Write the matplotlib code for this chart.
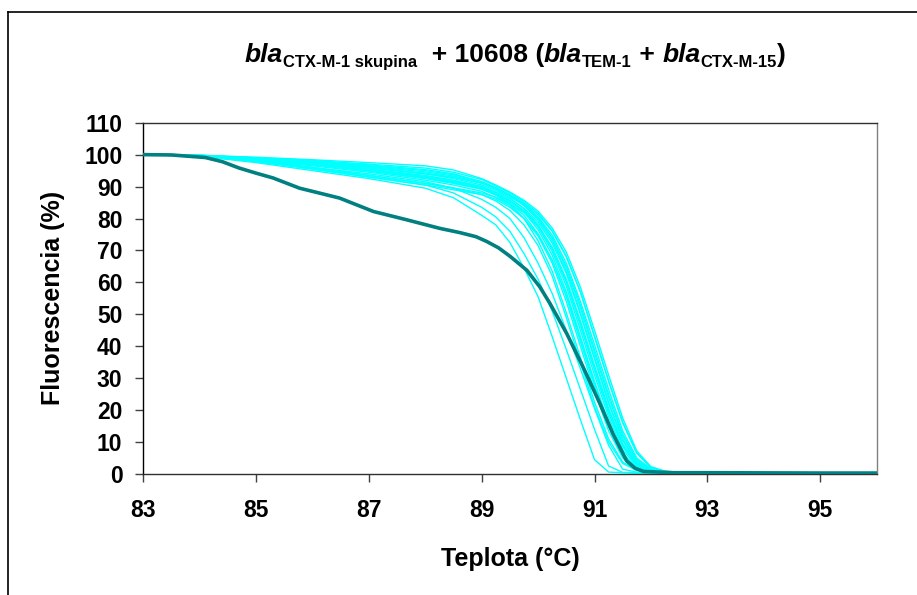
import numpy as np
import matplotlib
matplotlib.use("Agg")
import matplotlib.pyplot as plt
from matplotlib.lines import Line2D

plt.rcParams['font.family'] = ['Liberation Sans', 'DejaVu Sans']

# temperature grid shared by the light (cyan) melting curves
teploty = [83, 84, 85, 86, 87, 88, 88.5, 89, 89.25, 89.5, 89.75, 90, 90.25, 90.5,
           90.75, 91, 91.25, 91.5, 91.75, 92, 92.25, 92.5, 93, 96]

# cyan curves - fluorescence (%)
krivky_cyan = [
    [100, 99.5, 97.5, 95.0, 92.5, 89.5, 86.5, 81.0, 78.0, 72.5, 64.5, 55.5, 43.0, 30.0, 17.0, 4.5, 0.6, 0.4, 0.3, 0.3, 0.3, 0.3, 0.3, 0.2],
    [100, 99.6, 98.0, 95.5, 93.0, 90.5, 88.0, 83.5, 80.5, 76.0, 69.0, 61.0, 51.0, 39.0, 26.5, 14.0, 2.5, 0.5, 0.4, 0.3, 0.3, 0.3, 0.3, 0.2],
    [100, 99.6, 98.3, 96.0, 94.0, 91.5, 89.5, 86.0, 83.5, 80.0, 74.0, 66.0, 56.5, 45.0, 33.0, 20.5, 9.0, 1.5, 0.6, 0.4, 0.3, 0.3, 0.3, 0.2],
    [100, 99.5, 98.0, 96.0, 93.5, 91.0, 89.5, 87.5, 85.5, 82.5, 78.0, 71.5, 62.0, 49.0, 35.0, 21.0, 10.0, 3.3, 1.1, 0.6, 0.45, 0.4, 0.35, 0.2],
    [100, 99.7, 98.5, 97.0, 95.0, 93.0, 91.5, 89.5, 87.5, 84.5, 80.0, 73.0, 63.5, 50.5, 36.5, 22.5, 11.0, 3.7, 1.3, 0.6, 0.45, 0.4, 0.35, 0.2],
    [100, 99.6, 98.2, 96.5, 94.5, 92.0, 90.5, 88.5, 86.5, 84.0, 80.0, 74.5, 66.0, 54.0, 40.0, 26.0, 13.5, 5.0, 1.6, 0.7, 0.5, 0.4, 0.35, 0.2],
    [100, 99.7, 98.6, 97.3, 95.5, 93.5, 92.0, 90.0, 88.0, 85.5, 82.0, 76.5, 68.5, 57.0, 43.0, 29.0, 16.0, 6.5, 2.0, 0.8, 0.5, 0.4, 0.35, 0.2],
    [100, 99.5, 97.8, 95.5, 93.0, 90.5, 89.0, 87.5, 86.0, 83.5, 80.0, 75.0, 67.0, 56.0, 42.5, 28.5, 15.5, 6.2, 2.0, 0.8, 0.5, 0.4, 0.35, 0.2],
    [100, 99.8, 98.8, 97.6, 96.0, 94.0, 92.5, 90.5, 88.8, 86.5, 83.0, 78.0, 70.5, 60.0, 46.5, 32.5, 19.0, 8.5, 2.8, 1.0, 0.55, 0.45, 0.35, 0.2],
    [100, 99.7, 98.5, 97.0, 95.3, 93.2, 91.8, 90.0, 88.3, 86.2, 83.2, 78.8, 72.3, 62.8, 50.0, 36.0, 22.0, 10.5, 3.5, 1.2, 0.6, 0.45, 0.35, 0.2],
    [100, 99.8, 99.0, 98.0, 96.8, 95.3, 94.0, 91.5, 89.5, 87.0, 84.0, 79.5, 73.0, 63.5, 50.5, 36.5, 22.5, 11.0, 3.7, 1.3, 0.6, 0.45, 0.35, 0.2],
    [100, 99.6, 98.3, 96.8, 94.8, 92.5, 91.0, 89.2, 87.5, 85.3, 82.3, 77.8, 71.0, 61.0, 48.0, 34.0, 20.5, 9.5, 3.2, 1.1, 0.55, 0.45, 0.35, 0.2],
    [100, 99.7, 98.7, 97.5, 96.0, 94.2, 93.0, 91.0, 89.2, 87.0, 84.2, 80.0, 74.0, 65.0, 53.0, 39.0, 25.0, 12.5, 4.5, 1.5, 0.7, 0.5, 0.35, 0.2],
    [100, 99.8, 98.9, 97.8, 96.5, 95.0, 93.7, 91.5, 89.7, 87.5, 84.7, 80.5, 74.8, 66.0, 54.0, 40.5, 26.5, 13.5, 5.0, 1.6, 0.7, 0.5, 0.35, 0.2],
    [100, 99.8, 99.0, 98.2, 97.0, 95.8, 94.5, 92.2, 90.2, 88.0, 85.3, 81.7, 76.2, 68.2, 57.0, 43.0, 29.0, 16.0, 6.5, 2.0, 0.8, 0.5, 0.35, 0.2],
    [100, 99.7, 98.6, 97.2, 95.8, 94.0, 92.8, 91.2, 89.5, 87.3, 84.8, 81.2, 76.0, 68.0, 57.0, 43.2, 29.2, 16.2, 6.6, 2.0, 0.8, 0.5, 0.35, 0.2],
    [100, 99.8, 99.2, 98.4, 97.5, 96.5, 95.2, 92.5, 90.5, 88.3, 85.7, 82.3, 77.0, 69.5, 58.5, 45.0, 31.0, 17.5, 7.2, 2.3, 0.9, 0.55, 0.35, 0.2],
    [100, 99.5, 97.9, 95.8, 93.5, 91.0, 89.6, 88.0, 86.7, 84.6, 81.8, 77.5, 70.8, 60.5, 47.2, 33.2, 19.8, 9.0, 3.0, 1.0, 0.55, 0.45, 0.35, 0.2],
    [100, 99.6, 98.4, 96.9, 95.0, 92.7, 91.2, 89.2, 87.3, 84.8, 81.0, 75.2, 67.0, 55.5, 41.5, 27.5, 14.8, 5.8, 1.8, 0.75, 0.5, 0.4, 0.35, 0.2],
    [100, 99.7, 98.8, 97.7, 96.3, 94.6, 93.3, 91.2, 89.4, 87.2, 84.3, 80.2, 73.8, 64.5, 52.0, 38.0, 24.0, 12.0, 4.2, 1.4, 0.65, 0.5, 0.35, 0.2],
    [100, 99.7, 98.5, 97.1, 95.4, 93.0, 91.6, 89.6, 87.9, 85.7, 82.4, 77.3, 69.7, 58.8, 45.0, 31.0, 17.8, 7.6, 2.5, 0.9, 0.5, 0.4, 0.35, 0.2],
]

# dark curve (sample 10608)
teploty_tmava = [83, 83.5, 84.1, 84.4, 84.7, 85.0, 85.3, 85.77, 86.0, 86.48, 87.08, 87.67,
                 88.26, 88.61, 88.9, 89.09, 89.3, 89.5, 89.8, 90.03, 90.21, 90.51, 90.8,
                 91.1, 91.33, 91.57, 91.72, 91.87, 92.4, 93, 94, 95, 96]
fluor_tmava = [100, 99.9, 99.1, 97.8, 95.8, 94.2, 92.7, 89.5, 88.5, 86.4, 82.2, 79.6,
               76.9, 75.6, 74.3, 72.8, 70.8, 68.2, 63.8, 58.6, 53.4, 43.9, 33.4,
               21.9, 12.5, 4.1, 1.8, 0.8, 0.4, 0.4, 0.35, 0.3, 0.3]

x_ticks = [83, 85, 87, 89, 91, 93, 95]
y_ticks = list(range(0, 111, 10))

W, H = 917, 595
fig = plt.figure(figsize=(W / 100, H / 100), dpi=100)
ax = fig.add_axes([143.3 / W, 1 - 474 / H, (876.5 - 143.3) / W, (474 - 122.7) / H])

for k in krivky_cyan:
    ax.plot(teploty, k, color='#00FFFF', lw=1.0, zorder=2)
ax.plot(teploty_tmava, fluor_tmava, color='#008080', lw=2.6, zorder=3)

ax.set_xlim(83, 96)
ax.set_ylim(0, 110)
ax.set_xticks(x_ticks)
ax.set_yticks(y_ticks)
ax.tick_params(direction='out', length=6, width=1, labelsize=16.5, color='#404040')
ax.tick_params(axis='y', pad=9)
ax.tick_params(axis='x', pad=12)
for lab in ax.get_xticklabels() + ax.get_yticklabels():
    lab.set_fontweight('bold')

ax.spines['left'].set_color('black')
ax.spines['bottom'].set_color('#303030')
ax.spines['top'].set_color('#303030')
ax.spines['right'].set_color('#808080')
for s in ax.spines.values():
    s.set_linewidth(1.0)

ax.set_xlabel('Teplota (°C)', fontsize=18, fontweight='bold', labelpad=18)
ax.set_ylabel('Fluorescencia (%)', fontsize=18, fontweight='bold', labelpad=14)

# outer frame (only left and top edges are visible in the picture)
fig.add_artist(Line2D([7.5 / W, 7.5 / W], [0, 1 - 12 / H], color='black', lw=1.2,
                      transform=fig.transFigure))
fig.add_artist(Line2D([7.5 / W, 1], [1 - 12 / H, 1 - 12 / H], color='black', lw=1.2,
                      transform=fig.transFigure))

# title assembled piece by piece (italic "bla" + subscripts)
kusy = [
    ('bla', 19, 'italic', 0),
    ('CTX-M-1 skupina', 12, 'normal', -5),
    ('  + 10608 (', 19, 'normal', 0),
    ('bla', 19, 'italic', 0),
    ('TEM-1', 12, 'normal', -5),
    (' + ', 19, 'normal', 0),
    ('bla', 19, 'italic', 0),
    ('CTX-M-15', 12, 'normal', -5),
    (')', 19, 'normal', 0),
]
fig.canvas.draw()
rend = fig.canvas.get_renderer()
texty = []
for s, size, style, dy in kusy:
    t = fig.text(0, 0, s, fontsize=size, fontweight='bold', fontstyle=style,
                 ha='left', va='baseline')
    texty.append((t, dy))
sirky = [t.get_window_extent(rend).width for t, _ in texty]
x0 = 515 - sum(sirky) / 2
base = H - 62
for (t, dy), w in zip(texty, sirky):
    t.set_position((x0 / W, (base + dy) / H))
    x0 += w

fig.savefig('out.png', dpi=100)
